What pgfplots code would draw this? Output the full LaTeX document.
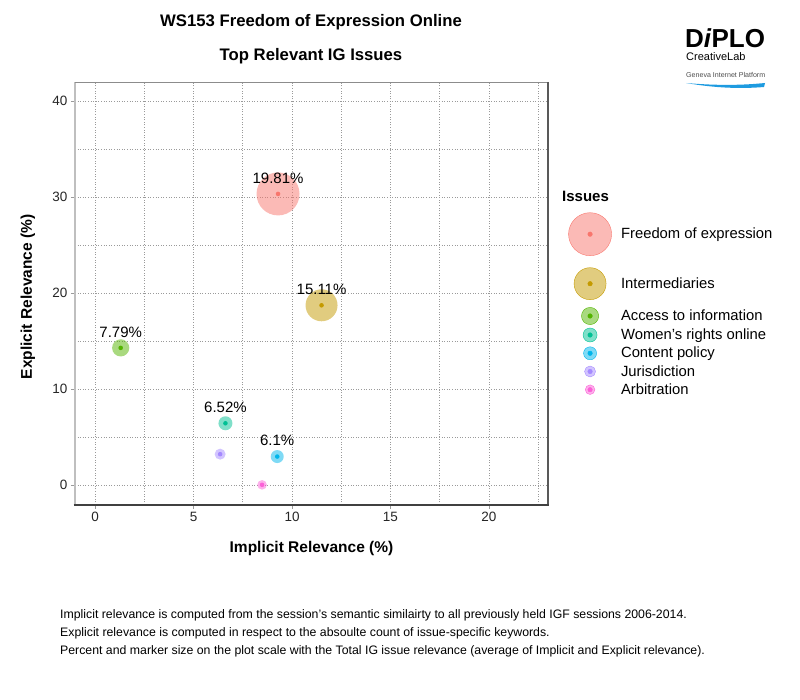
\documentclass[border=0pt]{standalone}
\usepackage{pgfplots}
\pgfplotsset{compat=1.18}
\usepackage{fontspec}
\setmainfont{Liberation Sans}
\usepackage{graphicx}
\definecolor{cA}{HTML}{F8766D}
\definecolor{cB}{HTML}{C49A00}
\definecolor{cC}{HTML}{53B400}
\definecolor{cD}{HTML}{00C094}
\definecolor{cE}{HTML}{00B6EB}
\definecolor{cF}{HTML}{A58AFF}
\definecolor{cG}{HTML}{FB61D7}
\definecolor{gridc}{HTML}{9A9A9A}
\definecolor{swoosh}{HTML}{1E9BE0}
\pgfplotsset{
  bubble/.style n args={2}{only marks, mark=*, mark size=#2, color=#1,
    mark options={solid, fill=#1, fill opacity=0.5, draw opacity=0}},
  dot/.style={forget plot, only marks, mark=*, mark size=2.3pt, color=#1,
    mark options={solid, fill=#1, draw opacity=0}},
  limg/.style n args={3}{legend image code/.code={%
    \path[draw=none, fill=none] (-22pt,-#3) rectangle (22pt,#3);
    \fill[#1, fill opacity=0.5] (0,0) circle (#2);
    \fill[#1] (0,0) circle (2.3pt);}},
}
\begin{document}
\begin{tikzpicture}
\useasboundingbox (0,0) rectangle (800pt,700pt);
\begin{axis}[
  at={(75pt,195pt)}, anchor=south west, scale only axis,
  width=473pt, height=423pt,
  xmin=-1.02, xmax=23.0, ymin=-2.1, ymax=42.0,
  xtick={0,5,10,15,20}, ytick={0,10,20,30,40},
  minor xtick={2.5,7.5,12.5,17.5,22.5}, minor ytick={5,15,25,35},
  xtick pos=left, ytick pos=left,
  grid=both,
  major grid style={gridc, line width=0.6pt, dash pattern=on 1pt off 1.6pt},
  minor grid style={gridc, line width=0.6pt, dash pattern=on 1pt off 1.6pt},
  axis line style={draw=none},
  tick align=outside, major tick length=4pt, minor tick length=0pt,
  tick style={gridc, line width=0.6pt},
  ticklabel style={font=\fontsize{13.5}{16}\selectfont, text=black!85},
  /pgf/number format/assume math mode=true,
  xlabel={Implicit Relevance (\%)},
  ylabel={Explicit Relevance (\%)},
  xlabel style={font=\fontsize{15.5}{18}\selectfont\bfseries, at={(axis description cs:0.5,-0.104)}, anchor=center},
  ylabel style={font=\fontsize{15.5}{18}\selectfont\bfseries, at={(axis description cs:-0.0994,0.492)}, anchor=center},
  clip=false,
  legend style={at={(axis description cs:1.042,0.7045)}, anchor=north west, draw=none, fill=none, inner sep=0pt, row sep=0pt, column sep=7pt, font=\fontsize{14.8}{17}\selectfont},
  legend cell align=left,
]
\draw[black!25, line width=2.2pt] (rel axis cs:0,0) -- (rel axis cs:0,1);
\draw[black!45, line width=0.8pt] (rel axis cs:0,1) -- (rel axis cs:1,1);
\draw[black!65, line width=1.6pt] (rel axis cs:1,1) -- (rel axis cs:1,0);
\draw[black!75, line width=1.6pt] (rel axis cs:-0.003,0) -- (rel axis cs:1.002,0);

\addplot[bubble={cA}{21.5pt}, limg={cA}{21.5pt}{27pt}] coordinates {(9.29,30.33)};
\addlegendentry{Freedom of expression}
\addplot[bubble={cB}{16pt}, limg={cB}{16pt}{22.5pt}] coordinates {(11.5,18.72)};
\addlegendentry{Intermediaries}
\addplot[bubble={cC}{8.6pt}, limg={cC}{8.6pt}{9.8pt}] coordinates {(1.3,14.28)};
\addlegendentry{Access to information}
\addplot[bubble={cD}{7pt}, limg={cD}{7pt}{9.2pt}] coordinates {(6.62,6.42)};
\addlegendentry{Women's rights online}
\addplot[bubble={cE}{6.5pt}, limg={cE}{6.5pt}{9.1pt}] coordinates {(9.25,2.95)};
\addlegendentry{Content policy}
\addplot[bubble={cF}{5.5pt}, limg={cF}{5.5pt}{9.1pt}] coordinates {(6.35,3.2)};
\addlegendentry{Jurisdiction}
\addplot[bubble={cG}{4.8pt}, limg={cG}{4.8pt}{9.1pt}] coordinates {(8.48,0.0)};
\addlegendentry{Arbitration}

\addplot[dot=cA] coordinates {(9.29,30.33)};
\addplot[dot=cB] coordinates {(11.5,18.72)};
\addplot[dot=cC] coordinates {(1.3,14.28)};
\addplot[dot=cD] coordinates {(6.62,6.42)};
\addplot[dot=cE] coordinates {(9.25,2.95)};
\addplot[dot=cF] coordinates {(6.35,3.2)};
\addplot[dot=cG] coordinates {(8.48,0.0)};

\addplot[forget plot, draw=none, mark=none, nodes near coords, point meta=explicit symbolic,
  every node near coord/.append style={anchor=center, yshift=16pt, font=\fontsize{15}{17}\selectfont, text=black}]
  coordinates {(9.29,30.33) [19.81\%] (11.5,18.72) [15.11\%] (1.3,14.28) [7.79\%] (6.62,6.42) [6.52\%] (9.25,2.95) [6.1\%]};
\end{axis}

% titles
\node[font=\fontsize{16.7}{19}\selectfont\bfseries] at (311pt,678pt) {WS153 Freedom of Expression Online};
\node[font=\fontsize{16.7}{19}\selectfont\bfseries] at (311pt,644pt) {Top Relevant IG Issues};
\node[font=\fontsize{15}{18}\selectfont\bfseries, anchor=west, inner sep=0pt] at (562pt,504pt) {Issues};

% footnotes
\node[font=\fontsize{12.3}{14}\selectfont, anchor=west, inner sep=0pt] at (60pt,85pt) {Implicit relevance is computed from the session's semantic similairty to all previously held IGF sessions 2006-2014.};
\node[font=\fontsize{12.3}{14}\selectfont, anchor=west, inner sep=0pt] at (60pt,67pt) {Explicit relevance is computed in respect to the absoulte count of issue-specific keywords.};
\node[font=\fontsize{12.3}{14}\selectfont, anchor=west, inner sep=0pt] at (60pt,49pt) {Percent and marker size on the plot scale with the Total IG issue relevance (average of Implicit and Explicit relevance).};

% logo
\node[font=\fontsize{26}{28}\selectfont\bfseries, anchor=west, inner sep=0pt] at (685pt,662pt) {D\textit{i}PLO};
\node[font=\fontsize{11}{13}\selectfont, anchor=west, inner sep=0pt] at (686pt,643pt) {CreativeLab};
\node[anchor=west, inner sep=0pt, text=black!70] at (686pt,625pt) {\resizebox{79pt}{!}{\fontsize{7}{8}\selectfont Geneva Internet Platform}};
\fill[swoosh] (686pt,617pt) .. controls (720pt,614pt) and (745pt,615pt) .. (765pt,617pt) -- (764pt,613pt) .. controls (740pt,611pt) and (715pt,612pt) .. (686pt,617pt) -- cycle;
\end{tikzpicture}
\end{document}
